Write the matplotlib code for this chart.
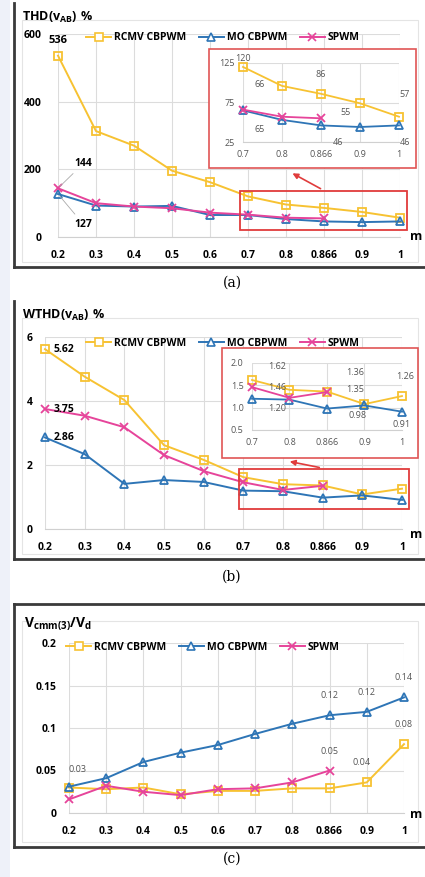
import matplotlib
matplotlib.use('Agg')
import matplotlib.pyplot as plt
from matplotlib.patches import Rectangle, FancyArrowPatch
from matplotlib.lines import Line2D

plt.rcParams['font.family'] = ['Open Sans', 'DejaVu Sans']
plt.rcParams['mathtext.fontset'] = 'custom'
plt.rcParams['mathtext.bf'] = 'Open Sans:bold'
plt.rcParams['mathtext.rm'] = 'Open Sans'

# data
m_labels = ['0.2', '0.3', '0.4', '0.5', '0.6', '0.7', '0.8', '0.866', '0.9', '1']
thd_rcmv = [536, 313, 270, 196, 162, 120, 96, 86, 74, 57]
thd_mo = [127, 93, 90, 92, 65, 65, 53, 46, 44, 46]
thd_spwm = [144, 100, 90, 85, 72, 66, 57, 55]
wthd_rcmv = [5.62, 4.76, 4.03, 2.62, 2.16, 1.62, 1.40, 1.36, 1.08, 1.26]
wthd_mo = [2.86, 2.34, 1.41, 1.53, 1.47, 1.20, 1.18, 0.98, 1.05, 0.91]
wthd_spwm = [3.75, 3.54, 3.18, 2.31, 1.81, 1.46, 1.22, 1.35]
vcm_rcmv = [0.030, 0.028, 0.030, 0.022, 0.026, 0.026, 0.029, 0.029, 0.036, 0.081]
vcm_mo = [0.031, 0.041, 0.060, 0.071, 0.080, 0.093, 0.105, 0.115, 0.119, 0.136]
vcm_spwm = [0.016, 0.032, 0.025, 0.021, 0.028, 0.029, 0.036, 0.050]

names = ['RCMV CBPWM', 'MO CBPWM', 'SPWM']
colors = ['#f7c232', '#2e75b6', '#e6449a']
markers = ['s', '^', 'x']

W, H = 425, 877
fig = plt.figure(figsize=(W / 100, H / 100), dpi=100)
fig.patch.set_facecolor('white')


def fx(x):
    return x / W


def fy(y):
    return 1 - y / H


def px_axes(x0, x1, ytop, ybot, z=0):
    ax = fig.add_axes([fx(x0), fy(ybot), (x1 - x0) / W, (ybot - ytop) / H])
    ax.set_zorder(z)
    return ax


def draw_series(ax, series, ms=6, lw=1.4):
    for vals, c, mk in zip(series, colors, markers):
        xs = list(range(len(vals)))
        ax.plot(xs, vals, color=c, lw=lw, marker=mk, ms=ms, mfc='none' if mk != 'x' else c,
                mec=c, mew=1.3, clip_on=False, zorder=3)


def style_axes(ax, ylim, yticks, labels, small=False, ypad=9):
    ax.set_xlim(0, len(labels) - 1)
    ax.set_ylim(*ylim)
    ax.set_yticks(yticks)
    ax.set_xticks(range(len(labels)))
    ax.set_xticklabels(labels)
    ax.grid(True, color='#dcdcdc', lw=0.8)
    ax.set_axisbelow(True)
    for s in ['top', 'right', 'left']:
        ax.spines[s].set_visible(False)
    ax.spines['bottom'].set_color('#d0d0d0')
    ax.tick_params(length=0)
    ax.set_facecolor('white')
    if small:
        ax.tick_params(labelsize=6.5, labelcolor='#555555', pad=6)
    else:
        ax.tick_params(axis='x', labelsize=7.5, pad=9)
        ax.tick_params(axis='y', labelsize=7.5, pad=ypad)
        for t in ax.get_xticklabels() + ax.get_yticklabels():
            t.set_fontweight('bold')


def panel_frame(top, bottom, top_line=False):
    fig.add_artist(Line2D([fx(14), fx(14)], [fy(top), fy(bottom)], color='#3a3a3a', lw=2))
    fig.add_artist(Line2D([fx(14), fx(425)], [fy(bottom), fy(bottom)], color='#3a3a3a', lw=2))
    if top_line:
        fig.add_artist(Line2D([fx(14), fx(425)], [fy(top), fy(top)], color='#3a3a3a', lw=2))
    fig.add_artist(Rectangle((fx(22), fy(bottom - 5)), fx(396), (bottom - top - 22) / H,
                             fill=False, ec='#e4e4e4', lw=0.8))


def legend(x, y, ms=6):
    handles = [Line2D([], [], color=c, marker=mk, mfc='white' if mk != 'x' else c, mec=c,
                      mew=1.2, ms=ms, lw=1.4) for c, mk in zip(colors, markers)]
    leg = fig.legend(handles, names, loc='center left', bbox_to_anchor=(fx(x), fy(y)),
                     ncol=3, frameon=False, fontsize=7.5, handlelength=2.4,
                     columnspacing=1.2, handletextpad=0.3, borderaxespad=0)
    for t in leg.get_texts():
        t.set_fontweight('bold')


def inset_box(x0, y0, x1, y1):
    fig.add_artist(Rectangle((fx(x0), fy(y1)), (x1 - x0) / W, (y1 - y0) / H,
                             fc='white', ec='#e05555', lw=1.2, zorder=2))


def zoom_box(x0, y0, x1, y1, tail, head):
    fig.add_artist(Rectangle((fx(x0), fy(y1)), (x1 - x0) / W, (y1 - y0) / H,
                             fill=False, ec='#e03c3c', lw=1.3, zorder=2))
    fig.add_artist(FancyArrowPatch((fx(tail[0]), fy(tail[1])), (fx(head[0]), fy(head[1])),
                                   arrowstyle='-|>', mutation_scale=8, color='#e03c3c',
                                   lw=1.2, zorder=2))


gray = '#555555'

# ---------------- (a) ----------------
panel_frame(3, 267)
ax = px_axes(58, 400, 34, 237)
draw_series(ax, [thd_rcmv, thd_mo, thd_spwm])
style_axes(ax, (0, 600), [0, 200, 400, 600], m_labels, ypad=12)
fig.text(fx(22), fy(17), r'$\mathbf{THD(v_{AB})\ \%}$', fontsize=9, va='center')
fig.text(fx(410), fy(236), 'm', fontsize=9, fontweight='bold', va='center')
ax.annotate('536', (0, thd_rcmv[0]), xytext=(-7, 11), textcoords='offset points',
            fontsize=8, fontweight='bold', va='center', ha='left')
ax.annotate('144', (0, thd_spwm[0]), xytext=(12, 14), textcoords='offset points',
            fontsize=7.5, fontweight='bold', va='bottom',
            arrowprops=dict(arrowstyle='-', color='#aaaaaa', lw=0.6))
ax.annotate('127', (0, thd_mo[0]), xytext=(12, -18), textcoords='offset points',
            fontsize=7.5, fontweight='bold', va='top',
            arrowprops=dict(arrowstyle='-', color='#aaaaaa', lw=0.6))
legend(82, 38)
zoom_box(240, 191, 407, 230, (323, 190), (290, 172))
inset_box(209, 49, 416, 168)
ia = px_axes(243, 399, 63, 142, z=3)
draw_series(ia, [thd_rcmv[5:], thd_mo[5:], thd_spwm[5:]], ms=5.5, lw=1.3)
style_axes(ia, (25, 125), [25, 75, 125], m_labels[5:], small=True)
for txt, x, y, dx, dy in [('120', 0, thd_rcmv[5], 0, 6), ('66', 0, thd_spwm[5], 12, 18),
                          ('65', 0, thd_mo[5], 12, -14), ('86', 2, thd_rcmv[7], 0, 14),
                          ('55', 2, thd_spwm[7], 18, 4), ('46', 2, thd_mo[7], 12, -12),
                          ('57', 4, thd_rcmv[9], 4, 16), ('46', 4, thd_mo[9], 4, -12)]:
    ia.annotate(txt, (x, y), xytext=(dx, dy), textcoords='offset points', fontsize=6.5,
                color=gray, ha='center', va='center')

# ---------------- (b) ----------------
panel_frame(301, 559)
bx = px_axes(45, 402, 337, 529)
draw_series(bx, [wthd_rcmv, wthd_mo, wthd_spwm])
style_axes(bx, (0, 6), [0, 2, 4, 6], m_labels)
fig.text(fx(22), fy(315), r'$\mathbf{WTHD(v_{AB})\ \%}$', fontsize=9, va='center')
fig.text(fx(410), fy(534), 'm', fontsize=9, fontweight='bold', va='center')
for txt, v in [('5.62', wthd_rcmv[0]), ('3.75', wthd_spwm[0]), ('2.86', wthd_mo[0])]:
    bx.annotate(txt, (0, v), xytext=(6, 0), textcoords='offset points', fontsize=7.5,
                fontweight='bold', va='center')
legend(82, 343)
zoom_box(239, 469, 409, 509, (322, 468), (287, 461))
inset_box(222, 348, 418, 458)
ib = px_axes(252, 402, 363, 430, z=3)
draw_series(ib, [wthd_rcmv[5:], wthd_mo[5:], wthd_spwm[5:]], ms=5.5, lw=1.3)
style_axes(ib, (0.5, 2), [0.5, 1, 1.5, 2], m_labels[5:], small=True)
for txt, x, y, dx, dy in [('1.62', 0, wthd_rcmv[5], 18, 10), ('1.46', 0, wthd_spwm[5], 18, 0),
                          ('1.20', 0, wthd_mo[5], 18, -7), ('1.36', 2, wthd_rcmv[7], 20, 14),
                          ('1.35', 2, wthd_spwm[7], 20, 2), ('0.98', 2, wthd_mo[7], 22, -5),
                          ('1.26', 4, wthd_rcmv[9], 2, 14), ('0.91', 4, wthd_mo[9], 0, -9)]:
    ib.annotate(txt, (x, y), xytext=(dx, dy), textcoords='offset points', fontsize=6.5,
                color=gray, ha='center', va='center')

# ---------------- (c) ----------------
panel_frame(604, 847, top_line=True)
cx = px_axes(69, 404, 643, 813)
draw_series(cx, [vcm_rcmv, vcm_mo, vcm_spwm])
style_axes(cx, (0, 0.2), [0, 0.05, 0.1, 0.15, 0.2], m_labels)
cx.set_yticklabels(['0', '0.05', '0.1', '0.15', '0.2'])
fig.text(fx(24), fy(624), r'$\mathbf{V_{cmm(3)}/V_d}$', fontsize=10, va='center')
fig.text(fx(410), fy(814), 'm', fontsize=9, fontweight='bold', va='center')
legend(62, 647)
for txt, x, y, dx, dy in [('0.03', 0, vcm_mo[0], 6, 12), ('0.12', 7, vcm_mo[7], 0, 14),
                          ('0.12', 8, vcm_mo[8], 0, 14), ('0.14', 9, vcm_mo[9], 0, 14),
                          ('0.08', 9, vcm_rcmv[9], 0, 14), ('0.05', 7, vcm_spwm[7], 0, 14),
                          ('0.04', 8, vcm_rcmv[8], -4, 14)]:
    cx.annotate(txt, (x, y), xytext=(dx, dy), textcoords='offset points', fontsize=6.5,
                color=gray, ha='center', va='center')

# captions and left strip
fig.add_artist(Rectangle((0, 0), fx(10), 1, fc='#eef1f9', ec='none', zorder=0))
for lab, y in [('(a)', 283), ('(b)', 577), ('(c)', 859)]:
    fig.text(fx(232), fy(y), lab, fontsize=10, family='DejaVu Serif', ha='center', va='center')

fig.savefig('out.png', dpi=100)
